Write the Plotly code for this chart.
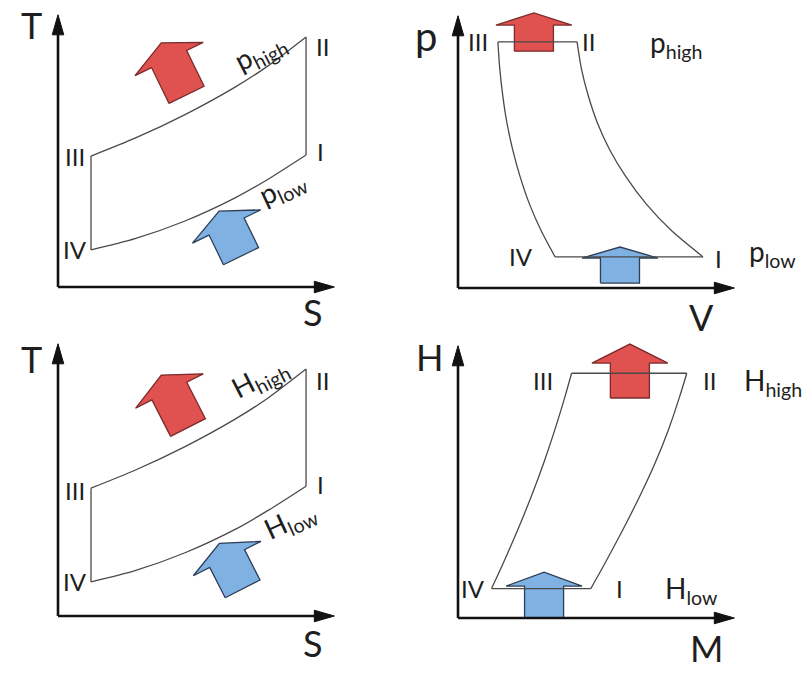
import math
import plotly.graph_objects as go

PAGE_W, PAGE_H = 804, 673
UNIT = 27.5  # page pixels per data unit, the same on both axes of every panel

# ---------------- data (schematic state values, arbitrary units) ----------------
# T-S diagram with isobars (top left)
ts_p_s = [1.20, 2.80, 4.62, 6.44, 7.64, 9.02]
ts_p_high_t = [4.76, 5.41, 6.27, 7.27, 8.04, 9.09]
ts_p_low_t = [1.35, 1.76, 2.40, 3.24, 3.92, 4.80]

# p-V diagram (top right)
pv_p = [8.95, 7.96, 6.98, 6.00, 5.02, 4.04, 3.05, 2.07, 1.13]
pv_comp_v = [1.45, 1.52, 1.63, 1.78, 1.99, 2.26, 2.60, 3.03, 3.53]
pv_exp_v = [4.33, 4.49, 4.74, 5.07, 5.52, 6.11, 6.85, 7.78, 8.91]

# T-S diagram with iso-field lines (bottom left)
tsh_s = [1.20, 2.80, 4.62, 6.44, 7.64, 9.02]
tsh_h_high_t = [4.65, 5.30, 6.16, 7.16, 7.93, 8.98]
tsh_h_low_t = [1.24, 1.65, 2.30, 3.15, 3.84, 4.72]

# H-M diagram (bottom right)
hm_left_m = [1.22, 1.64, 2.17, 2.66, 3.11, 3.52, 3.89, 4.13]
hm_right_m = [4.83, 5.34, 5.99, 6.60, 7.16, 7.65, 8.06, 8.32]
hm_h = [1.07, 1.98, 3.20, 4.41, 5.62, 6.84, 8.05, 8.90]

# ---------------- panel placement ----------------
PANELS = {
    "A": dict(box=(0, 0, 400, 336), origin=(58, 287), ax=""),
    "B": dict(box=(400, 0, 804, 336), origin=(458, 288), ax="2"),
    "C": dict(box=(0, 336, 400, 673), origin=(58, 616), ax="3"),
    "D": dict(box=(400, 336, 804, 673), origin=(458, 618), ax="4"),
}

AXIS_COLOR = "#111111"
CYCLE_COLOR = "#4a4a4a"
TEXT_COLOR = "#1e1e1e"
RED_FILL, RED_EDGE = "#e0524f", "#7a2b2a"
BLUE_FILL, BLUE_EDGE = "#7fb1e2", "#2e3d57"
FONT = "Lato"

STEM_HALF = 0.71   # half width of the block-arrow stem
HEAD_HALF = 1.38   # half width of the block-arrow head

# heat-flow arrows: panel, head-base centre x, y, tilt (deg, anticlockwise), stem length, head height
HEAT_ARROWS = [
    ("A", 4.04, 8.29, 26, 1.45, 0.65, "red"),
    ("A", 6.13, 2.20, 26, 1.20, 0.62, "blue"),
    ("B", 2.76, 9.56, 0, 0.95, 0.44, "red"),
    ("B", 5.89, 1.09, 0, 0.91, 0.40, "blue"),
    ("C", 4.05, 8.18, 27, 1.49, 0.65, "red"),
    ("C", 6.15, 2.09, 27, 1.24, 0.62, "blue"),
    ("D", 6.25, 9.27, 0, 1.27, 0.69, "red"),
    ("D", 3.13, 1.16, 0, 1.16, 0.51, "blue"),
]

fig = go.Figure()


def refs(panel):
    a = PANELS[panel]["ax"]
    return "x" + a, "y" + a


def add_line(panel, xs, ys, shape="linear", color=CYCLE_COLOR, width=1.3):
    xr, yr = refs(panel)
    fig.add_trace(go.Scatter(
        x=xs, y=ys, mode="lines", xaxis=xr, yaxis=yr,
        line=dict(color=color, width=width, shape=shape, smoothing=0.7),
        hoverinfo="skip", showlegend=False))


def add_poly(panel, xs, ys, fill, edge, width):
    xr, yr = refs(panel)
    fig.add_trace(go.Scatter(
        x=xs + xs[:1], y=ys + ys[:1], mode="lines", fill="toself",
        fillcolor=fill, xaxis=xr, yaxis=yr,
        line=dict(color=edge, width=width),
        hoverinfo="skip", showlegend=False))


def block_arrow(panel, cx, cy, tilt, stem, head, kind):
    t = math.radians(tilt)
    dx, dy = -math.sin(t), math.cos(t)   # pointing direction
    nx, ny = math.cos(t), math.sin(t)    # across the arrow
    pts = [
        (cx - stem * dx - STEM_HALF * nx, cy - stem * dy - STEM_HALF * ny),
        (cx - STEM_HALF * nx, cy - STEM_HALF * ny),
        (cx - HEAD_HALF * nx, cy - HEAD_HALF * ny),
        (cx + head * dx, cy + head * dy),
        (cx + HEAD_HALF * nx, cy + HEAD_HALF * ny),
        (cx + STEM_HALF * nx, cy + STEM_HALF * ny),
        (cx - stem * dx + STEM_HALF * nx, cy - stem * dy + STEM_HALF * ny),
    ]
    fill, edge = (RED_FILL, RED_EDGE) if kind == "red" else (BLUE_FILL, BLUE_EDGE)
    add_poly(panel, [p[0] for p in pts], [p[1] for p in pts], fill, edge, 1.3)


def axes_with_arrows(panel, x_tip=10.05, y_tip=9.9):
    head_len, head_half = 0.73, 0.21
    add_line(panel, [0, 0], [0, y_tip - head_len + 0.05], color=AXIS_COLOR, width=2.6)
    add_line(panel, [0, x_tip - head_len + 0.05], [0, 0], color=AXIS_COLOR, width=2.6)
    add_poly(panel, [-head_half, head_half, 0], [y_tip - head_len, y_tip - head_len, y_tip],
             AXIS_COLOR, AXIS_COLOR, 1)
    add_poly(panel, [x_tip - head_len, x_tip - head_len, x_tip], [-head_half, head_half, 0],
             AXIS_COLOR, AXIS_COLOR, 1)


# heat arrows sit underneath the cycle outlines
for panel, cx, cy, tilt, stem, head, kind in HEAT_ARROWS:
    block_arrow(panel, cx, cy, tilt, stem, head, kind)

for p in "ABCD":
    axes_with_arrows(p)

# T-S (isobars)
add_line("A", ts_p_s, ts_p_high_t, "spline")
add_line("A", ts_p_s, ts_p_low_t, "spline")
add_line("A", [ts_p_s[-1], ts_p_s[-1]], [ts_p_high_t[-1], ts_p_low_t[-1]])
add_line("A", [ts_p_s[0], ts_p_s[0]], [ts_p_high_t[0], ts_p_low_t[0]])

# p-V
add_line("B", pv_comp_v, pv_p, "spline")
add_line("B", pv_exp_v, pv_p, "spline")
add_line("B", [pv_comp_v[0], pv_exp_v[0]], [pv_p[0], pv_p[0]])
add_line("B", [pv_comp_v[-1], pv_exp_v[-1]], [pv_p[-1], pv_p[-1]])

# T-S (iso-field)
add_line("C", tsh_s, tsh_h_high_t, "spline")
add_line("C", tsh_s, tsh_h_low_t, "spline")
add_line("C", [tsh_s[-1], tsh_s[-1]], [tsh_h_high_t[-1], tsh_h_low_t[-1]])
add_line("C", [tsh_s[0], tsh_s[0]], [tsh_h_high_t[0], tsh_h_low_t[0]])

# H-M
add_line("D", hm_left_m, hm_h, "spline")
add_line("D", hm_right_m, hm_h, "spline")
add_line("D", [hm_left_m[-1], hm_right_m[-1]], [hm_h[-1], hm_h[-1]])
add_line("D", [hm_left_m[0], hm_right_m[0]], [hm_h[0], hm_h[0]])

# ---------------- labels ----------------
annotations = []


def label(panel, x, y, text, size, angle=0, xanchor="center"):
    xr, yr = refs(panel)
    annotations.append(dict(
        x=x, y=y, xref=xr, yref=yr, text=text, showarrow=False,
        xanchor=xanchor, yanchor="middle", textangle=angle,
        font=dict(family=FONT, size=size, color=TEXT_COLOR)))


AXIS_SIZE, STATE_SIZE, LINE_SIZE = 36, 24, 28

label("A", -0.95, 9.53, "T", AXIS_SIZE)
label("A", 9.27, -0.91, "S", AXIS_SIZE)
label("A", 0.62, 4.73, "III", STATE_SIZE)
label("A", 0.62, 1.38, "IV", STATE_SIZE)
label("A", 9.60, 8.73, "II", STATE_SIZE)
label("A", 9.53, 4.91, "I", STATE_SIZE)
label("A", 7.35, 8.55, "p<sub>high</sub>", LINE_SIZE, -27)
label("A", 8.15, 3.60, "p<sub>low</sub>", LINE_SIZE, -25)

label("B", -1.16, 9.15, "p", 40)
label("B", 8.87, -1.05, "V", AXIS_SIZE)
label("B", 0.73, 8.95, "III", STATE_SIZE)
label("B", 4.76, 8.95, "II", STATE_SIZE)
label("B", 6.90, 8.87, "p<sub>high</sub>", LINE_SIZE, 0, "left")
label("B", 2.29, 1.13, "IV", STATE_SIZE)
label("B", 9.49, 1.09, "I", STATE_SIZE)
label("B", 10.50, 1.27, "p<sub>low</sub>", LINE_SIZE, 0, "left")

label("C", -0.95, 9.35, "T", AXIS_SIZE)
label("C", 9.27, -0.98, "S", AXIS_SIZE)
label("C", 0.62, 4.58, "III", STATE_SIZE)
label("C", 0.62, 1.24, "IV", STATE_SIZE)
label("C", 9.60, 8.55, "II", STATE_SIZE)
label("C", 9.53, 4.80, "I", STATE_SIZE)
label("C", 7.35, 8.65, "H<sub>high</sub>", LINE_SIZE, -27)
label("C", 8.44, 3.45, "H<sub>low</sub>", LINE_SIZE, -25)

label("D", -1.02, 9.49, "H", AXIS_SIZE)
label("D", 9.05, -1.09, "M", AXIS_SIZE)
label("D", 3.09, 8.65, "III", STATE_SIZE)
label("D", 9.16, 8.65, "II", STATE_SIZE)
label("D", 10.33, 8.58, "H<sub>high</sub>", LINE_SIZE, 0, "left")
label("D", 0.55, 1.09, "IV", STATE_SIZE)
label("D", 5.89, 1.09, "I", STATE_SIZE)
label("D", 7.45, 1.02, "H<sub>low</sub>", LINE_SIZE, 0, "left")

# ---------------- layout ----------------
layout = dict(
    width=PAGE_W, height=PAGE_H,
    margin=dict(l=0, r=0, t=0, b=0),
    paper_bgcolor="white", plot_bgcolor="rgba(0,0,0,0)",
    showlegend=False, annotations=annotations,
)
for p, cfg in PANELS.items():
    l, t, r, b = cfg["box"]
    ox, oy = cfg["origin"]
    a = cfg["ax"]
    layout["xaxis" + a] = dict(
        domain=[l / PAGE_W, r / PAGE_W],
        range=[(l - ox) / UNIT, (r - ox) / UNIT],
        visible=False, fixedrange=True, anchor="y" + a)
    layout["yaxis" + a] = dict(
        domain=[1 - b / PAGE_H, 1 - t / PAGE_H],
        range=[(oy - b) / UNIT, (oy - t) / UNIT],
        visible=False, fixedrange=True, anchor="x" + a)

fig.update_layout(**layout)
fig.write_html("out.html")
